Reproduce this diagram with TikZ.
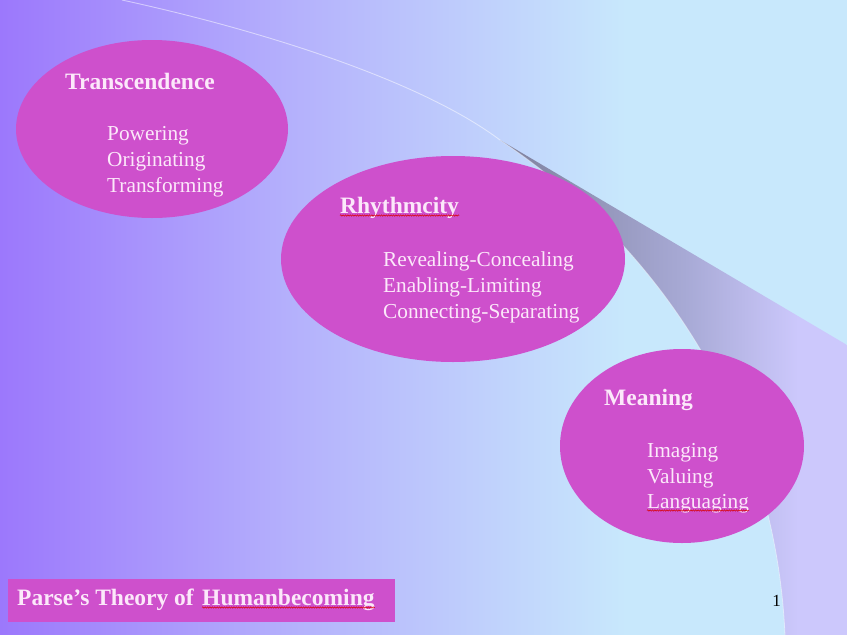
\documentclass[tikz,border=0pt]{standalone}
\usepackage{fontspec}
\setmainfont{Liberation Serif}
\usetikzlibrary{shapes.geometric,decorations.pathmorphing}
\definecolor{bgA}{HTML}{9C78FC}
\definecolor{bgB}{HTML}{B4B0FC}
\definecolor{bgC}{HTML}{C8E8FC}
\definecolor{swA}{HTML}{7E809C}
\definecolor{swB}{HTML}{A8AAD6}
\definecolor{swC}{HTML}{CCC8FC}
\definecolor{mag}{HTML}{CE50CC}
\definecolor{txt}{HTML}{FCE8FA}
\pgfdeclarehorizontalshading{bgsh}{100bp}{color(0bp)=(bgA); color(25bp)=(bgA); color(42bp)=(bgB); color(62bp)=(bgC); color(100bp)=(bgC)}
\pgfdeclarehorizontalshading{swsh}{100bp}{color(0bp)=(swA); color(25bp)=(swA); color(52bp)=(swB); color(68bp)=(swC); color(100bp)=(swC)}
\tikzset{
  blob/.style={ellipse, fill=mag, draw=none, inner sep=0pt},
  hd/.style={text=txt, font=\bfseries\fontsize{23.5}{26}\selectfont, anchor=base west, inner sep=0pt},
  itm/.style={text=txt, font=\fontsize{21.3}{26}\selectfont, anchor=base west, inner sep=0pt},
  squig/.style={red!85!black, line width=0.5pt, decorate, decoration={snake, amplitude=0.7pt, segment length=2.4pt}}
}
\begin{document}
\begin{tikzpicture}[x=1pt,y=-1pt]
\useasboundingbox (0,0) rectangle (847,635);
% background
\shade[shading=bgsh] (0,0) rectangle (847,635);
% swoosh
\coordinate (tip) at (500,140);
\coordinate (ur) at (847,345);
\coordinate (br) at (847,635);
\coordinate (bl) at (785,635);
\coordinate (arcstart) at (122,0);
\shade[shading=swsh] (tip) -- (ur) -- (br) -- (bl) .. controls (775,410) and (650,240) .. (tip) -- cycle;
\draw[white, opacity=.45, line width=.8pt] (tip) .. controls (650,240) and (775,410) .. (bl);
\draw[white, opacity=.5, line width=.9pt] (arcstart) .. controls (260,30) and (420,80) .. (tip);
% ellipses
\node[blob, minimum width=272pt, minimum height=178pt] (e1) at (152,129) {};
\node[blob, minimum width=344pt, minimum height=206pt] (e2) at (453,259) {};
\node[blob, minimum width=244pt, minimum height=194pt] (e3) at (682,446) {};
% texts ellipse 1
\node[hd] (h1) at (65,89) {Transcendence};
\node[itm] (a1) at (107,140) {Powering};
\node[itm] (a2) at (107,166) {Originating};
\node[itm] (a3) at (107,192) {Transforming};
% texts ellipse 2
\node[hd] (h2) at (340,213) {Rhythmcity};
\node[itm] (b1) at (383,266) {Revealing-Concealing};
\node[itm] (b2) at (383,292) {Enabling-Limiting};
\node[itm] (b3) at (383,318) {Connecting-Separating};
% texts ellipse 3
\node[hd] (h3) at (604,405) {Meaning};
\node[itm] (c1) at (647,457) {Imaging};
\node[itm] (c2) at (647,483) {Valuing};
\node[itm] (c3) at (647,508) {Languaging};
% title box
\node[fill=mag, minimum width=387pt, minimum height=43pt, anchor=north west, inner sep=0pt] (tbox) at (8,579) {};
\node[hd] (title) at (17,605) {Parse’s Theory of};
\node[hd] (hb) at ([xshift=8pt]title.base east) {Humanbecoming};
% page number
\node[font=\fontsize{17}{20}\selectfont, anchor=base, inner sep=0pt, text=black] (pg) at (776.5,606) {1};
% spell-check squiggles
\draw[squig] ([yshift=-2.5pt]h2.base west) -- ([yshift=-2.5pt]h2.base east);
\draw[squig] ([yshift=-2.5pt]c3.base west) -- ([yshift=-2.5pt]c3.base east);
\draw[squig] ([yshift=-2.5pt]hb.base west) -- ([yshift=-2.5pt]hb.base east);
\end{tikzpicture}
\end{document}
